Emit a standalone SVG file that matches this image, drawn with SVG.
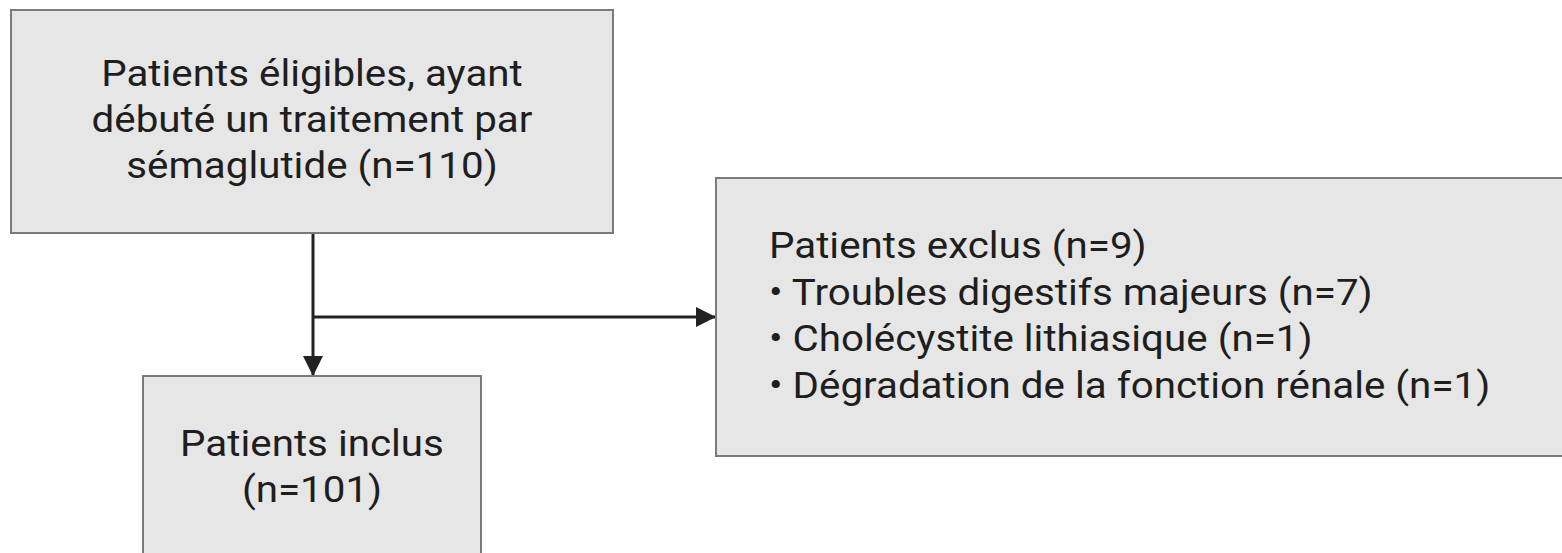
<svg xmlns="http://www.w3.org/2000/svg" width="1562" height="553" viewBox="0 0 1562 553">
<defs>
<style>
.box{fill:#e6e6e6;stroke:#7a7a7a;stroke-width:2}
.t{font-family:Roboto,"Liberation Sans",sans-serif;font-size:37px;fill:#1e1e1e}
.c{text-anchor:middle}
.ln{stroke:#222;stroke-width:3;fill:none}
</style>
<marker id="ah" viewBox="0 0 10 10" refX="10" refY="5" markerWidth="20" markerHeight="20" markerUnits="userSpaceOnUse" orient="auto">
<path d="M0,0 L10,5 L0,10 z" fill="#222"/>
</marker>
</defs>
<rect width="1562" height="553" fill="#fff"/>
<g id="connectors">
<line class="ln" x1="313" y1="233" x2="313" y2="376" marker-end="url(#ah)"/>
<line class="ln" x1="313" y1="317" x2="716" y2="317" marker-end="url(#ah)"/>
</g>
<g id="eligibles">
<rect class="box" x="11" y="10" width="602" height="223"/>
<g transform="translate(312,0) scale(1.09,1)">
<text class="t c" x="0" y="86">Patients éligibles, ayant</text>
<text class="t c" x="0" y="132">débuté un traitement par</text>
<text class="t c" x="0" y="178">sémaglutide (n=110)</text>
</g>
</g>
<g id="inclus">
<rect class="box" x="143" y="376" width="338" height="190"/>
<g transform="translate(312,0) scale(1.09,1)">
<text class="t c" x="0" y="456">Patients inclus</text>
<text class="t c" x="0" y="502">(n=101)</text>
</g>
</g>
<g id="exclus">
<rect class="box" x="716" y="178" width="860" height="278"/>
<g transform="translate(769,0) scale(1.09,1)">
<text class="t" x="0" y="258">Patients exclus (n=9)</text>
<text class="t" x="0" y="305">• Troubles digestifs majeurs (n=7)</text>
<text class="t" x="0" y="351">• Cholécystite lithiasique (n=1)</text>
<text class="t" x="0" y="398">• Dégradation de la fonction rénale (n=1)</text>
</g>
</g>
</svg>
